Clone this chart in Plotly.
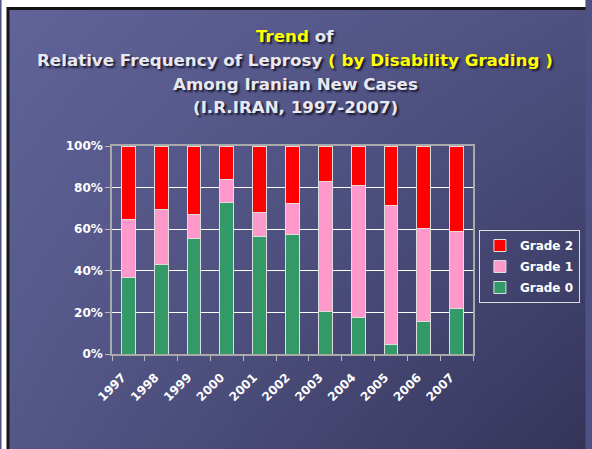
import base64, struct, zlib
import numpy as np
import plotly.graph_objects as go

years = ["1997", "1998", "1999", "2000", "2001", "2002", "2003", "2004", "2005", "2006", "2007"]
grade0 = [36.9, 43.1, 55.3, 72.9, 56.3, 57.5, 20.5, 17.6, 4.5, 15.7, 22.0]
grade1 = [27.8, 26.5, 11.9, 11.1, 11.5, 14.8, 62.2, 63.5, 66.8, 44.5, 37.0]
grade2 = [35.3, 30.4, 32.8, 16.0, 32.2, 27.7, 17.3, 18.9, 28.7, 39.8, 41.0]

title_lines = [
    "<span style='color:#ffff00'>Trend</span> of",
    "Relative Frequency of Leprosy <span style='color:#ffff00'>( by Disability Grading )</span>",
    "Among Iranian New Cases",
    "(I.R.IRAN, 1997-2007)",
]

W, H = 592, 449
ML, MR, MT, MB = 112, 114, 146, 95
PW, PH = W - ML - MR, H - MT - MB


def png_uri(arr):
    h, w, _ = arr.shape
    raw = b"".join(b"\x00" + arr[i].tobytes() for i in range(h))

    def chunk(t, d):
        c = struct.pack(">I", len(d)) + t + d
        return c + struct.pack(">I", zlib.crc32(t + d) & 0xFFFFFFFF)

    png = b"\x89PNG\r\n\x1a\n" + chunk(b"IHDR", struct.pack(">IIBBBBB", w, h, 8, 2, 0, 0, 0))
    png += chunk(b"IDAT", zlib.compress(raw, 9)) + chunk(b"IEND", b"")
    return "data:image/png;base64," + base64.b64encode(png).decode()


# slide background: diagonal gradient with white margin and black frame
yy, xx = np.mgrid[0:H, 0:W]
u = xx / (W - 1)
v = yy / (H - 1)
tl = np.array([98, 100, 154.0]); tr = np.array([79, 82, 130.0])
bl = np.array([85, 88, 137.0]); br = np.array([53, 53, 90.0])
img = ((1 - u)[..., None] * (1 - v)[..., None] * tl + u[..., None] * (1 - v)[..., None] * tr
       + (1 - u)[..., None] * v[..., None] * bl + u[..., None] * v[..., None] * br)
img = img.astype(np.uint8)
img[:, :5] = 255
img[:7, :] = 255
img[7:10, 5:] = 20
img[7:, 5:8] = 20
bg = png_uri(img)

FAM = "DejaVu Sans, sans-serif"
line = dict(color="#dddddd", width=1)
fig = go.Figure()
fig.add_bar(x=years, y=grade0, name="Grade 0", legendgroup="g0", legendrank=3,
            marker=dict(color="#339966", line=line))
fig.add_bar(x=years, y=grade1, name="Grade 1", legendgroup="g1", legendrank=2,
            marker=dict(color="#ff99cc", line=line))
fig.add_bar(x=years, y=grade2, name="Grade 2", legendgroup="g2", legendrank=1,
            marker=dict(color="#ff0000", line=line))

title_y = [36, 60, 84, 107]
annotations = [
    dict(text=t, xref="paper", yref="paper", x=(298 - ML) / PW, y=(H - MB - yc) / PH,
         xanchor="center", yanchor="middle", showarrow=False,
         font=dict(family=FAM, size=16.7, color="#e8e8f0", weight="bold",
                   shadow="2px 2px 2px #1a1a30"))
    for t, yc in zip(title_lines, title_y)
]

fig.update_layout(
    width=W, height=H,
    margin=dict(l=ML, r=MR, t=MT, b=MB),
    barmode="stack", bargap=0.58,
    paper_bgcolor="#4e5184", plot_bgcolor="rgba(0,0,0,0)",
    font=dict(family=FAM, color="white", size=12),
    showlegend=True,
    legend=dict(x=(484 - ML) / PW, y=(354 - 230) / PH, xanchor="left", yanchor="top",
                traceorder="grouped", bordercolor="#dddddd", borderwidth=1,
                bgcolor="rgba(0,0,0,0)", font=dict(family=FAM, size=12, color="white", weight="bold"),
                itemwidth=30, tracegroupgap=2),
    images=[dict(source=bg, xref="paper", yref="paper", x=-ML / PW, y=1 + MT / PH,
                 sizex=W / PW, sizey=H / PH, sizing="stretch", xanchor="left", yanchor="top",
                 layer="below")],
    annotations=annotations,
)
fig.update_xaxes(type="category", tickangle=-45, tickson="boundaries", ticks="outside",
                 ticklen=5, tickcolor="#bbbbbb", showline=True, linecolor="#aaaaaa",
                 linewidth=1.5, mirror=True, showgrid=False, ticklabelstandoff=10,
                 ticklabelshift=-6,
                 tickfont=dict(family=FAM, size=12, color="white", weight="bold"))
fig.update_yaxes(range=[0, 100], dtick=20, ticksuffix="%", ticks="outside", ticklen=5,
                 tickcolor="#bbbbbb", showline=True, linecolor="#aaaaaa", linewidth=1.5,
                 mirror=True, gridcolor="white", gridwidth=1, zeroline=False,
                 tickfont=dict(family=FAM, size=12, color="white", weight="bold"))

fig.write_html("out.html", config={"displayModeBar": False},
               post_script="document.body.style.margin='0px';")
